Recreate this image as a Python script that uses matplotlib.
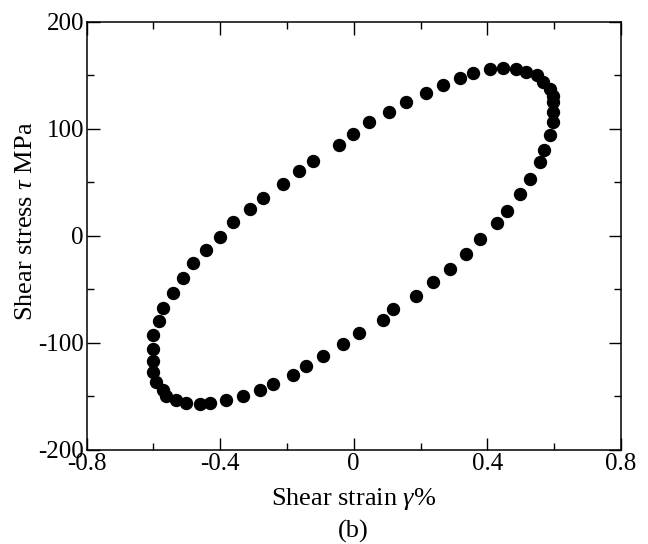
import numpy as np
import matplotlib
matplotlib.use("Agg")
import matplotlib.pyplot as plt
from matplotlib.ticker import MultipleLocator

plt.rcParams['font.family'] = ['Liberation Serif', 'DejaVu Serif']
plt.rcParams['mathtext.fontset'] = 'custom'
plt.rcParams['mathtext.rm'] = 'Liberation Serif'
plt.rcParams['mathtext.it'] = 'Liberation Serif:italic'

# hysteresis loop (strain %, stress MPa)
strain = [0.447, 0.407, 0.357, 0.317, 0.267, 0.217, 0.157, 0.107, 0.047, -0.002,
          -0.043, -0.122, -0.163, -0.212, -0.272, -0.312, -0.362, -0.402, -0.442, -0.482,
          -0.512, -0.542, -0.572, -0.582, -0.602, -0.602, -0.602, -0.602, -0.592, -0.572,
          -0.562, -0.532, -0.502, -0.462, -0.432, -0.382, -0.332, -0.282, -0.242, -0.182,
          -0.142, -0.092, -0.032, 0.017, 0.088, 0.118, 0.187, 0.237, 0.287, 0.337,
          0.378, 0.429, 0.459, 0.499, 0.527, 0.558, 0.569, 0.588, 0.598, 0.598,
          0.597, 0.597, 0.587, 0.568, 0.549, 0.517, 0.487]
stress = [157.2, 155.9, 152.1, 147.4, 141.2, 133.4, 125.6, 115.6, 106.2, 95.3,
          84.6, 70.3, 60.6, 48.5, 35.9, 25.6, 13.4, -0.7, -13.4, -25.6,
          -39.1, -53.1, -67.0, -79.4, -92.8, -105.2, -116.4, -127.2, -136.6, -144.0,
          -150.0, -153.4, -156.3, -157.2, -155.8, -153.2, -149.7, -144.3, -138.0, -129.6,
          -121.2, -112.0, -101.4, -90.4, -78.7, -68.4, -55.8, -42.8, -31.2, -17.2,
          -3.0, 11.9, 23.7, 39.6, 53.4, 68.9, 80.8, 94.0, 106.2, 115.7,
          125.4, 131.2, 137.8, 144.3, 150.1, 153.7, 155.9]

xticks = [-0.8, -0.4, 0, 0.4, 0.8]
xtick_labels = ['-0.8', '-0.4', '0', '0.4', '0.8']
yticks = [-200, -100, 0, 100, 200]
ytick_labels = ['-200', '-100', '0', '100', '200']

fig = plt.figure(figsize=(6.48, 5.44), dpi=100)
ax = fig.add_axes([0.1338, 0.1728, 0.8242, 0.7868])

ax.plot(strain, stress, 'o', color='black', markersize=8.6, linestyle='none')

ax.set_xlim(-0.8, 0.8)
ax.set_ylim(-200, 200)
ax.set_xticks(xticks)
ax.set_xticklabels(xtick_labels)
ax.set_yticks(yticks)
ax.set_yticklabels(ytick_labels)
ax.xaxis.set_minor_locator(MultipleLocator(0.2))
ax.yaxis.set_minor_locator(MultipleLocator(50))

ax.tick_params(which='both', direction='in', top=True, right=True, width=1.0)
ax.tick_params(which='major', length=9, labelsize=18, pad=2)
ax.tick_params(which='minor', length=5)
for s in ax.spines.values():
    s.set_linewidth(1.1)

ax.set_xlabel(r'Shear strain $\mathit{\gamma}$%', fontsize=19, va='baseline')
ax.xaxis.set_label_coords(0.5, (450 - 505) / 428)
ax.set_ylabel(r'Shear stress $\mathit{\tau}$ MPa', fontsize=19, va='center')
ax.yaxis.set_label_coords((26 - 86.7) / 534, (450 - 221) / 428)
fig.text(0.5 * (0.1338 + 0.958), 1 - 538 / 544, '(b)', fontsize=19,
         ha='center', va='baseline')

fig.savefig('out.png', dpi=100)
